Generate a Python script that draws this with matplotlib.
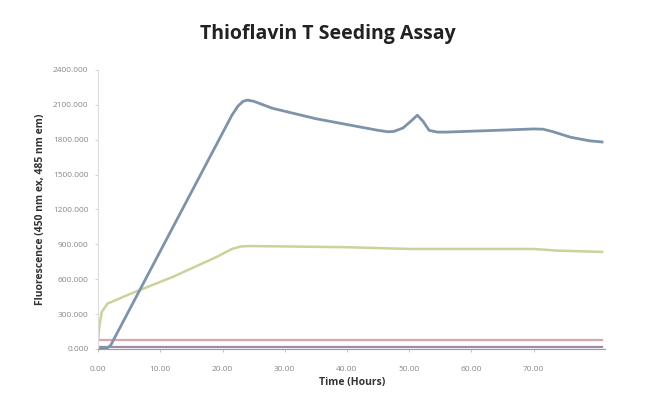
import numpy as np
import matplotlib.pyplot as plt

# readings (hours, fluorescence)
blue_t = [0, 1.5, 2.0, 21.5, 22.5, 23.3, 24.0, 25.0, 26.5, 28, 35, 42, 45, 46.5, 47.5, 49.0, 50.3, 51.3, 52.2, 53.2, 54.5, 56, 64, 70, 71.5, 73, 76, 79, 81]
blue_y = [10, 10, 30, 2010, 2090, 2130, 2140, 2130, 2100, 2070, 1980, 1910, 1880, 1868, 1870, 1900, 1960, 2010, 1960, 1880, 1865, 1865, 1880, 1892, 1890, 1870, 1820, 1790, 1780]

green_t = [0, 0.2, 0.6, 1.5, 5, 12, 19, 21.5, 23.0, 24.5, 40, 50, 70, 74, 81]
green_y = [80, 200, 320, 390, 470, 620, 790, 860, 882, 885, 875, 860, 860, 845, 835]

pink_t = [0, 81]
pink_y = [75, 75]
purple_t = [0, 81]
purple_y = [15, 15]

yticks = [0, 300, 600, 900, 1200, 1500, 1800, 2100, 2400]
xticks = [0, 10, 20, 30, 40, 50, 60, 70]

plt.rcParams['font.family'] = ['Open Sans', 'DejaVu Sans']

fig = plt.figure(figsize=(6.5, 3.97), dpi=100)
ax = fig.add_axes([0.151, 0.121, 0.78, 0.703])

ax.plot(pink_t, pink_y, color='#d8a4ad', lw=1.6)
ax.plot(purple_t, purple_y, color='#9c8ca8', lw=1.6)
ax.plot(green_t, green_y, color='#c9d39a', lw=1.8)
ax.plot(blue_t, blue_y, color='#7d93a9', lw=2.0)

ax.set_xlim(0, 81.5)
ax.set_ylim(0, 2400)
ax.set_yticks(yticks)
ax.set_yticklabels(['%.3f' % v for v in yticks], fontsize=6, color='#888888')
ax.set_xticks(xticks)
ax.set_xticklabels(['%.2f' % v for v in xticks], fontsize=6, color='#888888')
ax.tick_params(axis='y', length=2, width=0.6, color='#cccccc', pad=5)
ax.tick_params(axis='x', length=2, width=0.6, color='#bbbbbb', pad=10)

for s in ['top', 'right']:
    ax.spines[s].set_visible(False)
ax.spines['left'].set_color('#dddddd')
ax.spines['bottom'].set_color('#999999')

ax.set_xlabel('Time (Hours)', fontsize=7.5, fontweight='bold', color='#333333', labelpad=3)
ax.set_ylabel('Fluorescence (450 nm ex, 485 nm em)', fontsize=7.5, fontweight='bold', color='#333333', labelpad=5)

fig.text(0.505, 0.915, 'Thioflavin T Seeding Assay', ha='center', va='center',
         fontsize=14, fontweight='bold', color='#222222')

fig.savefig('out.png', dpi=100, facecolor='white')
